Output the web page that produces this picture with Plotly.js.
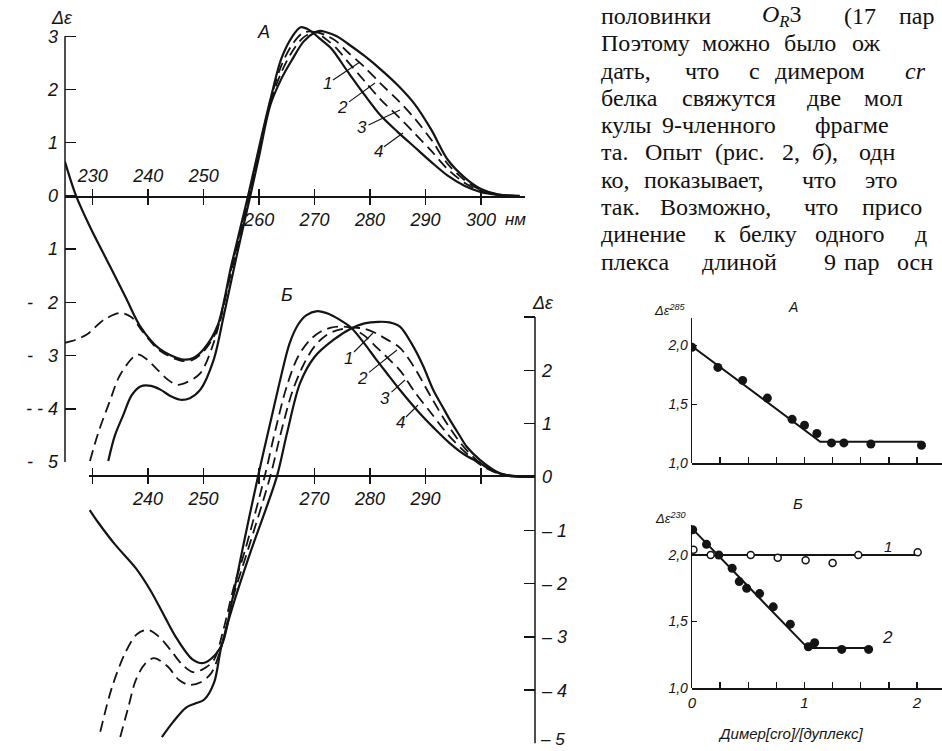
<!DOCTYPE html>
<html><head><meta charset="utf-8">
<script src="https://cdn.plot.ly/plotly-3.0.1.min.js"></script>
<style>html,body{margin:0;padding:0;background:#fff}#chart{width:942px;height:751px}</style>
</head><body><div id="chart"></div>
<script>
// ---------- Panel A (CD spectra, left axis) ----------
const lamA1 = [232.8,234,235.5,237,238.6,240.5,242.2,244,245.8,247.5,249.4,251.8,253.6,256,258.4,260,262,264,266,268,270,271,272,274,276,279,282,285,288,291,294,297,300,303,307];
const deA1  = [-4.98,-4.5,-4.12,-3.75,-3.58,-3.57,-3.64,-3.76,-3.83,-3.8,-3.64,-3.08,-2.26,-1.1,0.0,0.75,1.7,2.2,2.57,2.9,3.07,3.1,3.08,3.0,2.86,2.63,2.37,2.08,1.73,1.25,0.68,0.35,0.13,0.03,0.0];
const lamA2 = [229.5,231,233,235,238,239.5,241.6,243.5,245.2,247,249.4,251.8,254,256,258.2,260,262,264,266,268,270,272,274,276,279,282,285,288,291,294,297,300,303,306];
const deA2  = [-4.98,-4.45,-3.88,-3.35,-2.98,-3.05,-3.26,-3.45,-3.55,-3.5,-3.33,-2.76,-1.85,-0.98,0.0,0.85,1.75,2.32,2.72,2.98,3.08,3.02,2.9,2.7,2.42,2.1,1.8,1.46,1.06,0.6,0.3,0.11,0.03,0.0];
const lamA3 = [225,227,229,232,235,237,239,242,246,248,250,252.5,255,258.1,260,262,264,266,268,270,272,274,276,279,282,285,288,291,294,297,300,303,306];
const deA3  = [-2.76,-2.7,-2.6,-2.33,-2.2,-2.28,-2.55,-2.9,-3.1,-3.08,-2.92,-2.5,-1.35,0.0,0.88,1.78,2.45,2.85,3.07,3.08,2.95,2.77,2.52,2.16,1.8,1.5,1.18,0.85,0.5,0.25,0.09,0.02,0.0];
const lamA4 = [225,227,229.5,233,236,238.5,242,246,248,250,252.5,255,258,260,262,264,266,267.5,269,271,273,276,279,282,285,288,291,294,297,300,303,306];
const deA4  = [0.64,0.0,-0.58,-1.3,-1.92,-2.44,-2.87,-3.07,-3.05,-2.88,-2.44,-1.3,0.0,0.92,1.8,2.58,3.0,3.17,3.12,2.95,2.77,2.33,1.9,1.5,1.2,0.92,0.64,0.38,0.19,0.07,0.02,0.0];

// ---------- Panel Б (CD spectra, right axis) ----------
const lamB1 = [242.5,244.5,246.8,248.5,250.1,251.9,253.2,255.5,258.6,263.2,265,267.4,270,273.4,276.7,279,281.5,283.5,285.4,287.5,289.5,291.4,293,294.4,296,297.4,299.8,303.4,308];
const deB1  = [-4.88,-4.6,-4.33,-4.25,-4.18,-3.86,-3.19,-2.35,-1.37,0.0,0.8,1.76,2.25,2.57,2.79,2.88,2.91,2.9,2.82,2.5,2.1,1.63,1.33,1.07,0.8,0.57,0.32,0.07,0.0];
const lamB2 = [235,236.5,237.8,239.5,241.1,243.5,245.6,247.4,249.5,251.4,253.2,255.5,258,262,264,266,268,270,272,274,276.7,279,281,283,285.4,288,291,294,297,300,303,306];
const deB2  = [-4.88,-4.3,-3.81,-3.5,-3.4,-3.55,-3.81,-3.9,-3.85,-3.68,-3.19,-2.2,-1.37,0.0,0.85,1.6,2.1,2.45,2.65,2.75,2.8,2.78,2.7,2.58,2.42,2.05,1.5,0.98,0.55,0.25,0.08,0.01];
const lamB3 = [231.4,233.5,235.9,238,240,242,244.1,246,248.1,250,251.9,253.5,255.5,257.5,261,263,265,267,269,271,273,275,276.7,279,281,283,285.4,288,291,294,297,300,303,306];
const deB3  = [-4.78,-3.95,-3.3,-2.95,-2.87,-3.0,-3.25,-3.5,-3.66,-3.6,-3.43,-2.9,-2.05,-1.37,0.0,0.9,1.7,2.25,2.55,2.72,2.8,2.82,2.79,2.65,2.45,2.25,2.0,1.6,1.2,0.8,0.48,0.22,0.07,0.01];
const lamB4 = [229.5,231,234,237.8,240.4,243,245,248,250,252,253.5,255,257,259.8,262,264,265.5,267,268.5,270.5,272.5,274.5,276.7,279,281,283,285.4,289,291.5,294.4,297,299.8,302,305,308];
const deB4  = [-0.62,-0.85,-1.26,-1.71,-2.12,-2.62,-3.0,-3.42,-3.49,-3.35,-3.1,-2.4,-1.37,0.0,1.0,1.9,2.5,2.85,3.03,3.11,3.06,2.95,2.79,2.5,2.22,1.95,1.63,1.19,0.92,0.63,0.42,0.26,0.12,0.02,0.0];

// ---------- Small panel A: Δε285 vs ratio ----------
const ratioA = [0.0,0.23,0.45,0.67,0.89,1.0,1.11,1.24,1.35,1.59,2.04];
const de285  = [1.98,1.81,1.70,1.55,1.37,1.32,1.25,1.17,1.17,1.16,1.15];
const fitAx  = [0.0,1.14,2.04];
const fitAy  = [1.99,1.18,1.18];

// ---------- Small panel Б: Δε230 vs ratio ----------
const ratioB2 = [0.006,0.129,0.238,0.357,0.42,0.486,0.601,0.722,0.874,1.034,1.09,1.331,1.57];
const de230_2 = [2.19,2.08,2.0,1.9,1.8,1.75,1.71,1.61,1.48,1.31,1.34,1.29,1.29];
const fitB2x  = [0.0,1.03,1.57];
const fitB2y  = [2.2,1.3,1.3];
const ratioB1 = [0.013,0.166,0.522,0.762,1.01,1.25,1.478,2.006];
const de230_1 = [2.04,2.0,2.0,1.98,1.96,1.94,2.0,2.02];
const fitB1x  = [0.0,2.0];
const fitB1y  = [2.0,2.0];

// ---------- Tick labels ----------
const tickLam = [230,240,250,260,270,280,290,300];
const tickAbottom = ['','','','260','270','280','290','300'];
const tickAtop = ['230','240','250','','','','',''];
const tickBbottom = ['','240','250','','270','280','290',''];
const leftVals = [3,2,1,0,-1,-2,-3,-4,-5];
const leftText = ['3','2','1','0','1','-\u00a0\u00a0\u00a02','-\u00a0\u00a0\u00a03','-\u00a0-\u00a04','-\u00a0\u00a0\u00a05'];
const rightVals = [3,2,1,0,-1,-2,-3,-4,-5];
const rightText = ['','2','1','0','\u2013\u00a01','\u2013\u00a02','\u2013\u00a03','\u2013\u00a04',''];
const smallXvals = [0,0.25,0.5,0.75,1,1.25,1.5,1.75,2];
const smallXtextB = ['0','','','','1','','','','2'];
const smallYvals = [1,1.5,2];
const smallYtext = ['1,0','1,5','2,0'];

const textLines = [
  [['половинки',599],['<i>O</i><sub><i>R</i></sub>3',760],['(17',842],['пар',897]],
  [['Поэтому',599],['можно',700],['было',782],['ож',850]],
  [['дать,',599],['что',683],['с',747],['димером',773],['<i>cr</i>',903]],
  [['белка',599],['свяжутся',680],['две',805],['мол',862]],
  [['кулы',599],['9-членного',660],['фрагме',813]],
  [['та.',599],['Опыт',643],['(рис.',713],['2,',780],['<i>б</i>),',810],['одн',857]],
  [['ко,',599],['показывает,',642],['что',800],['это',863]],
  [['так.',599],['Возможно,',658],['что',802],['присо',860]],
  [['динение',599],['к',712],['белку',737],['одного',813],['д',913]],
  [['плекса',599],['длиной',700],['9',822],['пар',842],['осн',895]]
];

// ---------- helpers ----------
const W = 942, H = 751;
const fx = p => p / W;
const fy = p => 1 - p / H;
const INK = '#141414';
const itf = (s) => ({family:'Liberation Sans, DejaVu Sans, sans-serif', size:s, color:INK, style:'italic'});

function curve(x, y, xa, ya, dashed) {
  return {type:'scatter', mode:'lines', x:x, y:y, xaxis:xa, yaxis:ya, hoverinfo:'skip', showlegend:false,
    line:{color:INK, width: dashed ? 1.8 : 2.2, dash: dashed ? '11px,6px' : 'solid', shape:'spline', smoothing:0.9}};
}
function pts(x, y, xa, ya, open) {
  return {type:'scatter', mode:'markers', x:x, y:y, xaxis:xa, yaxis:ya, hoverinfo:'skip', showlegend:false,
    marker: open ? {size:7, color:'#fff', line:{color:INK, width:1.5}} : {size:9, color:INK, line:{width:0}}};
}
function fit(x, y, xa, ya) {
  return {type:'scatter', mode:'lines', x:x, y:y, xaxis:xa, yaxis:ya, hoverinfo:'skip', showlegend:false,
    line:{color:INK, width:2}};
}
const empty = (xa, ya) => ({type:'scatter', mode:'lines', x:[], y:[], xaxis:xa, yaxis:ya, showlegend:false, hoverinfo:'skip'});

const traces = [
  curve(lamA1, deA1, 'x', 'y', false),
  curve(lamA2, deA2, 'x', 'y', true),
  curve(lamA3, deA3, 'x', 'y', true),
  curve(lamA4, deA4, 'x', 'y', false),
  curve(lamB1, deB1, 'x2', 'y2', false),
  curve(lamB2, deB2, 'x2', 'y2', true),
  curve(lamB3, deB3, 'x2', 'y2', true),
  curve(lamB4, deB4, 'x2', 'y2', false),
  empty('x3', 'y'),
  empty('x4', 'y2'),
  fit(fitAx, fitAy, 'x5', 'y5'),
  pts(ratioA, de285, 'x5', 'y5', false),
  fit(fitB1x, fitB1y, 'x6', 'y6'),
  fit(fitB2x, fitB2y, 'x6', 'y6'),
  pts(ratioB2, de230_2, 'x6', 'y6', false),
  pts(ratioB1, de230_1, 'x6', 'y6', true)
];

// axis ranges from pixel geometry
const lamRangeA = [225, 260 + (525 - 259) / 5.55];
const lamRangeB = [260 + (89 - 259) / 5.55, 260 + (535 - 259) / 5.55];
const smallXRange = [0, 250 / 112.5];
const smallYRangeA = [1, 1 + 163 / 118];
const smallYRangeB = [1, 1 + 163 / 133];

const baseX = {showgrid:false, zeroline:false, showline:true, linecolor:INK, linewidth:1.5,
  ticks:'outside', ticklen:7, tickwidth:1.5, tickcolor:INK, tickfont:itf(18), fixedrange:true, ticklabeloverflow:'allow'};

const layout = {
  width:W, height:H, margin:{l:0, r:0, t:0, b:0}, paper_bgcolor:'#fff', plot_bgcolor:'rgba(0,0,0,0)',
  showlegend:false,
  xaxis: Object.assign({}, baseX, {domain:[fx(65), fx(525)], range:lamRangeA, anchor:'free', position:fy(196),
    tickmode:'array', tickvals:tickLam, ticktext:tickAbottom, side:'bottom'}),
  xaxis3: Object.assign({}, baseX, {overlaying:'x', range:lamRangeA, anchor:'free', position:fy(196), side:'top',
    showline:false, tickmode:'array', tickvals:tickLam, ticktext:tickAtop}),
  yaxis: {domain:[fy(462), fy(15)], range:[-5, 3.4], anchor:'x', showgrid:false, zeroline:false, showline:false,
    ticks:'inside', ticklen:11, tickwidth:1.5, tickcolor:INK, ticklabeloverflow:'allow',
    tickmode:'array', tickvals:leftVals, ticktext:leftText, tickfont:itf(18), ticklabelstandoff:6, fixedrange:true},
  xaxis2: Object.assign({}, baseX, {domain:[fx(89), fx(535)], range:lamRangeB, anchor:'free', position:fy(475),
    tickmode:'array', tickvals:tickLam, ticktext:tickBbottom, side:'bottom'}),
  xaxis4: Object.assign({}, baseX, {overlaying:'x2', range:lamRangeB, anchor:'free', position:fy(475), side:'top',
    showline:false, tickmode:'array', tickvals:tickLam, ticktext:tickLam.map(() => '')}),
  yaxis2: {domain:[fy(743.5), fy(301)], range:[-5, 3.3], anchor:'x2', side:'right', showgrid:false, zeroline:false,
    showline:false, ticks:'inside', ticklen:11, tickwidth:1.5, tickcolor:INK, ticklabeloverflow:'allow',
    tickmode:'array', tickvals:rightVals, ticktext:rightText, tickfont:itf(18), ticklabelstandoff:6, fixedrange:true},
  xaxis5: {domain:[fx(692), 1], range:smallXRange, anchor:'free', position:fy(463), showgrid:false, zeroline:false,
    showline:true, linecolor:INK, linewidth:1.5, ticks:'inside', ticklen:6, tickwidth:1.3, tickcolor:INK,
    tickmode:'array', tickvals:smallXvals, showticklabels:false, fixedrange:true},
  yaxis5: {domain:[fy(463), fy(318)], range:[1, 1 + 145 / 118], anchor:'x5', showgrid:false, zeroline:false,
    showline:true, linecolor:INK, linewidth:1.3, ticks:'inside', ticklen:5, tickcolor:INK, ticklabeloverflow:'allow',
    tickmode:'array', tickvals:smallYvals, ticktext:smallYtext, tickfont:itf(14), fixedrange:true},
  xaxis6: {domain:[fx(692), 1], range:smallXRange, anchor:'free', position:fy(688), showgrid:false, zeroline:false,
    showline:true, linecolor:INK, linewidth:1.5, ticks:'inside', ticklen:6, tickwidth:1.3, tickcolor:INK, ticklabeloverflow:'allow',
    tickmode:'array', tickvals:smallXvals, ticktext:smallXtextB, tickfont:itf(15), fixedrange:true},
  yaxis6: {domain:[fy(688), fy(525)], range:smallYRangeB, anchor:'x6', showgrid:false, zeroline:false,
    showline:true, linecolor:INK, linewidth:1.3, ticks:'inside', ticklen:5, tickcolor:INK, ticklabeloverflow:'allow',
    tickmode:'array', tickvals:smallYvals, ticktext:smallYtext, tickfont:itf(14), fixedrange:true},
  // axis lines of the two spectra panels, ending at the Δε = 3 tick
  shapes: [
    {type:'line', xref:'paper', yref:'y', x0:fx(65), x1:fx(65), y0:-5, y1:3, line:{color:INK, width:1.5}},
    {type:'line', xref:'paper', yref:'y2', x0:fx(535), x1:fx(535), y0:-5, y1:3, line:{color:INK, width:1.5}}
  ],
  annotations: []
};

function ann(text, px, py, size, extra) {
  layout.annotations.push(Object.assign({text:text, xref:'paper', yref:'paper', x:fx(px), y:fy(py),
    showarrow:false, font:itf(size), xanchor:'center', yanchor:'middle'}, extra || {}));
}
function lead(text, px, py, tipx, tipy, size) {
  layout.annotations.push({text:text, xref:'paper', yref:'paper', x:fx(tipx), y:fy(tipy),
    ax:px - tipx, ay:py - tipy, showarrow:true, arrowhead:0, arrowwidth:1.1, arrowcolor:INK,
    font:itf(size), standoff:0, startstandoff:0});
}

// big-chart labels
ann('Δε', 62, 18, 18);
ann('Δε', 543, 303, 18);
ann('\u2013\u00a05', 552, 739, 17);
ann('А', 263, 32, 18);
ann('Б', 287, 295, 18);
ann('нм', 515, 219, 17);
lead('1', 327, 84, 360, 62, 17);
lead('2', 342, 107, 375, 83, 17);
lead('3', 362, 128, 400, 110, 17);
lead('4', 378, 151, 403, 133, 17);
lead('1', 348, 358, 373, 333, 17);
lead('2', 362, 378, 397, 350, 17);
lead('3', 385, 398, 405, 380, 17);
lead('4', 400, 423, 418, 405, 17);

// small panels labels
ann('Δε<sup>285</sup>', 688, 310, 13, {xanchor:'right'});
ann('Δε<sup>230</sup>', 688, 518, 13, {xanchor:'right'});
ann('А', 793, 307, 14);
ann('Б', 798, 503, 15);
ann('1', 888, 546, 15);
ann('2', 887, 637, 17);
ann('Димер[cro]/[дуплекс]', 790, 733, 15);

// text block
textLines.forEach((line, i) => {
  const py = 16 + 27.3 * i;
  line.forEach(([w, px]) => {
    layout.annotations.push({text:w, xref:'paper', yref:'paper', x:fx(px), y:fy(py), showarrow:false,
      xanchor:'left', yanchor:'middle', font:{family:'Liberation Serif, DejaVu Serif, serif', size:24, color:'#111'}});
  });
});

Plotly.newPlot('chart', traces, layout, {staticPlot:true, displayModeBar:false});
</script></body></html>
